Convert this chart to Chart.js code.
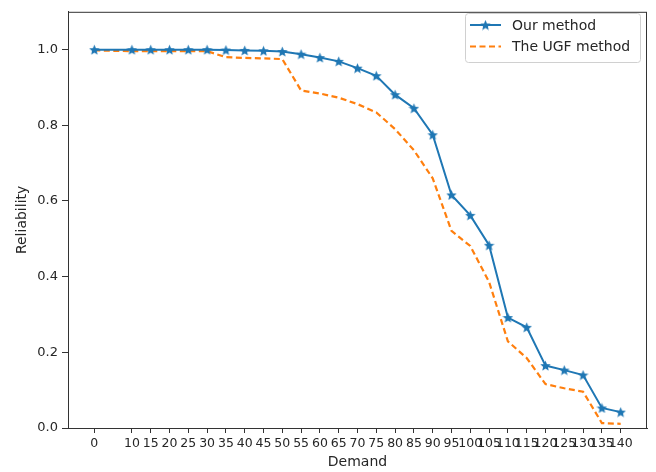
<!DOCTYPE html>
<html>
<head>
<meta charset="utf-8">
<script src="https://cdn.jsdelivr.net/npm/chart.js@4.4.1/dist/chart.umd.min.js"></script>
<style>
  body { margin: 0; background: #fff; }
  #wrap { width: 656px; height: 472px; }
</style>
</head>
<body>
<div id="wrap"><canvas id="reliabilityChart" width="656" height="472"></canvas></div>
<script>
const demand = [0, 10, 15, 20, 25, 30, 35, 40, 45, 50, 55, 60, 65, 70, 75, 80, 85, 90, 95, 100, 105, 110, 115, 120, 125, 130, 135, 140];
const ourMethod = [1.0, 1.0, 1.0, 1.0, 1.0, 1.0, 0.999, 0.998, 0.997, 0.995, 0.988, 0.979, 0.969, 0.951, 0.931, 0.881, 0.845, 0.775, 0.616, 0.562, 0.483, 0.292, 0.266, 0.165, 0.153, 0.140, 0.053, 0.042];
const ugfMethod = [0.998, 0.996, 0.996, 0.996, 0.996, 0.996, 0.980, 0.978, 0.977, 0.975, 0.892, 0.884, 0.873, 0.856, 0.834, 0.790, 0.734, 0.660, 0.521, 0.481, 0.386, 0.229, 0.185, 0.116, 0.105, 0.096, 0.013, 0.011];
const xTicks = demand;
const yTicks = [0, 0.2, 0.4, 0.6, 0.8, 1.0];

const BLUE = '#1f77b4';
const ORANGE = '#ff7f0e';
const FONT = 'DejaVu Sans';

// filled five-point star, used as the marker
function makeStar(size, color) {
    const c = document.createElement('canvas');
    c.width = size; c.height = size;
    const ctx = c.getContext('2d');
    const cx = size / 2, cy = size / 2;
    const outer = size / 2, inner = outer * 0.45;
    ctx.beginPath();
    for (let i = 0; i < 10; i++) {
        const r = i % 2 === 0 ? outer : inner;
        const a = -Math.PI / 2 + i * Math.PI / 5;
        ctx.lineTo(cx + r * Math.cos(a), cy + r * Math.sin(a) + size * 0.05);
    }
    ctx.closePath();
    ctx.fillStyle = color;
    ctx.fill();
    return c;
}
const star = makeStar(11, BLUE);

const framePlugin = {
    id: 'frame',
    afterDatasetsDraw(chart) {
        const {ctx, chartArea: a} = chart;
        ctx.save();
        ctx.strokeStyle = '#333';
        ctx.lineWidth = 1;
        ctx.strokeRect(a.left + 0.5, a.top + 0.5, a.right - a.left - 1, a.bottom - a.top);
        ctx.restore();
    }
};

// matplotlib style legend box in the upper right corner
const legendPlugin = {
    id: 'mplLegend',
    afterDraw(chart) {
        const ctx = chart.ctx;
        const x0 = 465, y0 = 13, w = 175, h = 49;
        ctx.save();
        ctx.fillStyle = 'rgba(255,255,255,0.8)';
        ctx.strokeStyle = '#d0d0d0';
        ctx.lineWidth = 1;
        ctx.beginPath();
        ctx.roundRect(x0 + 0.5, y0 + 0.5, w, h, 3);
        ctx.fill();
        ctx.stroke();
        ctx.font = '14px "' + FONT + '"';
        ctx.textBaseline = 'middle';
        ctx.fillStyle = '#262626';
        chart.data.datasets.forEach((ds, i) => {
            const y = y0 + 12 + i * 21.5;
            ctx.beginPath();
            ctx.strokeStyle = ds.borderColor;
            ctx.lineWidth = ds.borderWidth;
            ctx.setLineDash(ds.borderDash || []);
            ctx.moveTo(470, y);
            ctx.lineTo(501, y);
            ctx.stroke();
            ctx.setLineDash([]);
            if (ds.pointRadius > 0) ctx.drawImage(star, 485.5 - 5.5, y - 5.5);
            ctx.fillText(ds.label, 512, y + 1);
        });
        ctx.restore();
    }
};

new Chart(document.getElementById('reliabilityChart'), {
    type: 'line',
    data: {
        datasets: [
            {
                label: 'Our method',
                data: demand.map((d, i) => ({x: d, y: ourMethod[i]})),
                borderColor: BLUE,
                backgroundColor: BLUE,
                borderWidth: 2,
                pointStyle: star,
                pointRadius: 5,
                tension: 0,
            },
            {
                label: 'The UGF method',
                data: demand.map((d, i) => ({x: d, y: ugfMethod[i]})),
                borderColor: ORANGE,
                backgroundColor: ORANGE,
                borderWidth: 2.2,
                borderDash: [6, 3.5],
                pointRadius: 0,
                tension: 0,
            },
        ]
    },
    options: {
        responsive: false,
        animation: false,
        layout: { padding: { top: 6, right: 9, left: 0, bottom: 0 } },
        plugins: {
            legend: { display: false },
            tooltip: { enabled: false },
        },
        scales: {
            x: {
                type: 'linear',
                min: -7,
                max: 147,
                afterBuildTicks: scale => { scale.ticks = xTicks.map(v => ({value: v})); },
                afterFit: scale => { scale.height = 44; },
                grid: { drawOnChartArea: false, drawTicks: true, tickLength: 5, color: '#333' },
                border: { display: true, color: '#333', width: 1 },
                ticks: {
                    autoSkip: false, maxRotation: 0, minRotation: 0, padding: 3,
                    color: '#262626', font: { family: FONT, size: 12.5 },
                    callback: v => String(v),
                },
                title: {
                    display: true, text: 'Demand', color: '#262626',
                    font: { family: FONT, size: 14 }, padding: { top: 0, bottom: 1 },
                },
            },
            y: {
                min: 0,
                max: 1.1,
                afterBuildTicks: scale => { scale.ticks = yTicks.map(v => ({value: v})); },
                afterFit: scale => { scale.width = 68; },
                grid: { drawOnChartArea: false, drawTicks: true, tickLength: 6, color: '#333' },
                border: { display: true, color: '#333', width: 1 },
                ticks: {
                    padding: 4, color: '#262626', font: { family: FONT, size: 13 },
                    callback: v => v.toFixed(1),
                },
                title: {
                    display: true, text: 'Reliability', color: '#262626',
                    font: { family: FONT, size: 14 }, padding: { top: 14, bottom: 0 },
                },
            }
        }
    },
    plugins: [framePlugin, legendPlugin]
});
</script>
</body>
</html>
